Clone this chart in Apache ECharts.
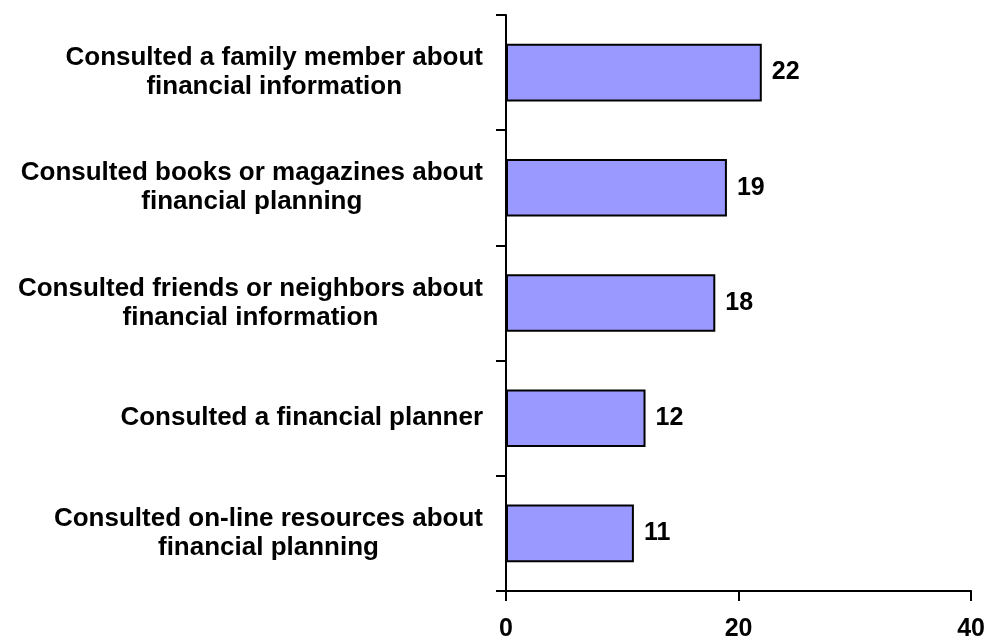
<!DOCTYPE html>
<html>
<head>
<meta charset="utf-8">
<script src="https://cdn.jsdelivr.net/npm/echarts@6/dist/echarts.min.js"></script>
<style>
  html, body { margin: 0; padding: 0; background: #fff; }
  #chart { width: 988px; height: 642px; }
</style>
</head>
<body>
<div id="chart"></div>
<script>
// Sources consulted, listed top to bottom
const categories = [
  'Consulted a family member about\nfinancial information',
  'Consulted books or magazines about\nfinancial planning',
  'Consulted friends or neighbors about\nfinancial information',
  'Consulted a financial planner',
  'Consulted on-line resources about\nfinancial planning'
];
const values = [22, 19, 18, 12, 11];
const xTicks = [0, 20, 40];

const FONT = '"Liberation Sans", Arial, sans-serif';

const chart = echarts.init(document.getElementById('chart'));
chart.setOption({
  animation: false,
  backgroundColor: '#ffffff',
  grid: { left: 506, top: 15, right: 15, bottom: 50, containLabel: false },
  xAxis: {
    type: 'value',
    min: xTicks[0],
    max: xTicks[xTicks.length - 1],
    interval: xTicks[1] - xTicks[0],
    axisLine: { show: true, lineStyle: { color: '#000', width: 2 } },
    axisTick: { show: true, length: 10, lineStyle: { color: '#000', width: 2 } },
    splitLine: { show: false },
    axisLabel: {
      margin: 26,
      color: '#000',
      fontFamily: FONT,
      fontWeight: 'bold',
      fontSize: 25
    }
  },
  yAxis: {
    type: 'category',
    data: categories,
    inverse: true,
    axisLine: { show: true, lineStyle: { color: '#000', width: 2 } },
    axisTick: { show: true, length: 10, lineStyle: { color: '#000', width: 2 } },
    axisLabel: {
      margin: 23,
      color: '#000',
      formatter: function (v) {
        return v.split('\n').map(function (s) { return '{c|' + s + '}'; }).join('\n');
      },
      rich: {
        c: {
          align: 'center',
          color: '#000',
          fontFamily: FONT,
          fontWeight: 'bold',
          fontSize: 26,
          lineHeight: 29
        }
      }
    }
  },
  series: [{
    type: 'bar',
    data: values,
    barCategoryGap: '50%',
    itemStyle: { color: '#9999ff', borderColor: '#000', borderWidth: 2 },
    label: {
      show: true,
      position: 'right',
      distance: 10,
      color: '#000',
      fontFamily: FONT,
      fontWeight: 'bold',
      fontSize: 25
    }
  }]
});
</script>
</body>
</html>
